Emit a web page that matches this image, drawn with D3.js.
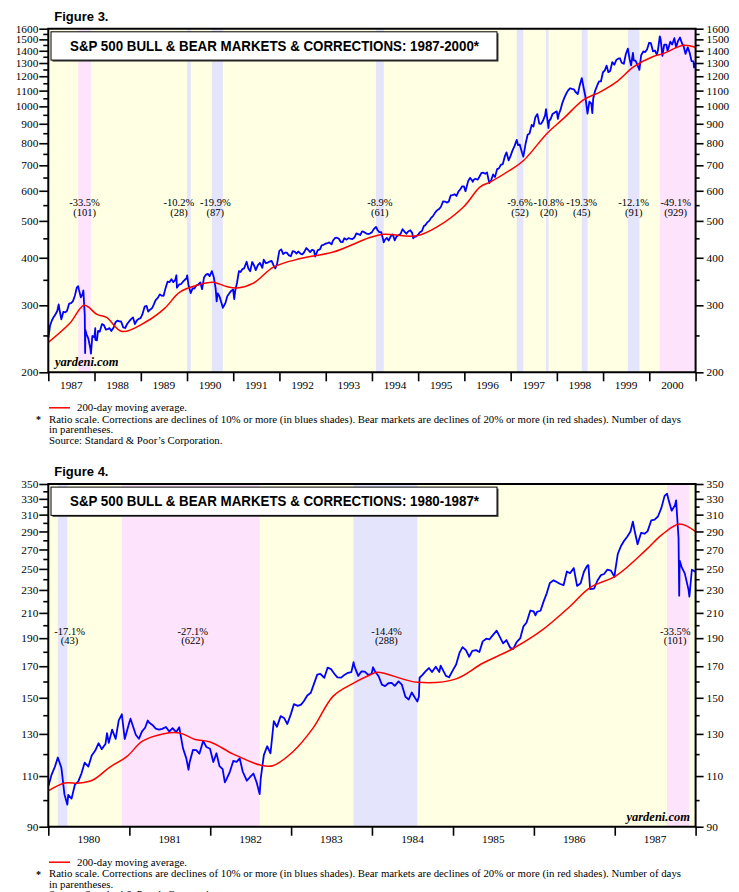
<!DOCTYPE html>
<html><head><meta charset="utf-8">
<script src="https://cdn.jsdelivr.net/npm/d3@7"></script>
<style>
body{margin:0;background:#fff;}
svg{display:block;}
</style></head><body>
<svg id="c" width="739" height="892"></svg>
<script>
// ---------- DATA ----------
// S&P 500 index (approx. semi-monthly readings incl. key highs/lows)
const sp1980to1986 = [
["1980-01-02",105.8],["1980-01-15",110.4],["1980-01-31",114.2],["1980-02-13",118.4],["1980-02-29",113.7],["1980-03-14",102.3],["1980-03-27",98.2],["1980-03-31",102.1],["1980-04-15",100.6],["1980-04-30",106.3],["1980-05-15",107.6],["1980-05-30",111.2],["1980-06-13",116.0],["1980-06-30",114.2],["1980-07-15",119.3],["1980-07-31",121.7],["1980-08-15",125.3],["1980-08-29",122.4],["1980-09-15",124.9],["1980-09-22",130.4],["1980-09-30",125.5],["1980-10-15",132.2],["1980-10-31",127.5],["1980-11-14",137.2],["1980-11-28",140.5],["1980-12-11",127.4],["1980-12-31",135.8],
["1981-01-06",138.1],["1981-01-15",134.8],["1981-01-30",129.6],["1981-02-13",127.5],["1981-02-27",131.3],["1981-03-13",133.2],["1981-03-25",137.1],["1981-03-31",136.0],["1981-04-15",134.7],["1981-04-30",132.8],["1981-05-15",132.2],["1981-05-29",132.6],["1981-06-15",133.6],["1981-06-30",131.2],["1981-07-15",133.0],["1981-07-31",130.9],["1981-08-14",133.5],["1981-08-31",122.8],["1981-09-15",118.0],["1981-09-25",112.8],["1981-09-30",116.2],["1981-10-15",122.0],["1981-10-30",121.9],["1981-11-13",120.2],["1981-11-30",126.4],["1981-12-15",123.4],["1981-12-31",122.6],
["1982-01-15",116.3],["1982-01-29",120.4],["1982-02-12",114.4],["1982-02-26",113.1],["1982-03-08",107.3],["1982-03-15",108.6],["1982-03-31",112.0],["1982-04-15",116.8],["1982-04-30",116.4],["1982-05-14",118.0],["1982-05-28",111.9],["1982-06-15",108.0],["1982-06-30",109.6],["1982-07-15",111.1],["1982-07-30",107.1],["1982-08-12",102.4],["1982-08-17",109.0],["1982-08-31",119.5],["1982-09-15",123.8],["1982-09-30",120.4],["1982-10-15",136.7],["1982-10-29",133.7],["1982-11-15",139.5],["1982-11-30",138.5],["1982-12-15",135.2],["1982-12-31",140.6],
["1983-01-14",146.3],["1983-01-31",145.3],["1983-02-15",146.0],["1983-02-28",148.1],["1983-03-15",151.4],["1983-03-31",153.0],["1983-04-15",158.8],["1983-04-29",164.4],["1983-05-13",164.9],["1983-05-31",162.4],["1983-06-15",169.1],["1983-06-30",168.1],["1983-07-15",165.0],["1983-07-29",162.6],["1983-08-15",162.5],["1983-08-31",164.4],["1983-09-15",165.6],["1983-09-30",166.1],["1983-10-10",172.7],["1983-10-14",169.9],["1983-10-31",163.6],["1983-11-15",166.6],["1983-11-30",166.4],["1983-12-15",164.3],["1983-12-30",164.9],
["1984-01-06",169.3],["1984-01-13",167.0],["1984-01-31",163.4],["1984-02-15",158.0],["1984-02-29",157.1],["1984-03-15",158.9],["1984-03-30",159.2],["1984-04-13",157.3],["1984-04-30",160.1],["1984-05-15",158.0],["1984-05-31",150.6],["1984-06-15",149.0],["1984-06-29",153.2],["1984-07-13",150.0],["1984-07-24",147.8],["1984-07-31",150.7],["1984-08-03",162.4],["1984-08-15",164.1],["1984-08-31",166.7],["1984-09-14",168.8],["1984-09-28",166.1],["1984-10-15",169.7],["1984-10-31",166.1],["1984-11-06",170.4],["1984-11-30",163.6],["1984-12-14",162.7],["1984-12-31",167.2],
["1985-01-15",171.2],["1985-01-31",179.6],["1985-02-13",183.4],["1985-02-28",181.2],["1985-03-15",176.5],["1985-03-29",180.7],["1985-04-15",181.2],["1985-04-30",179.8],["1985-05-15",187.6],["1985-05-31",189.6],["1985-06-14",189.0],["1985-06-28",191.9],["1985-07-17",195.7],["1985-07-31",190.9],["1985-08-15",186.1],["1985-08-30",188.6],["1985-09-16",182.9],["1985-09-30",182.1],["1985-10-15",187.0],["1985-10-31",189.8],["1985-11-15",199.1],["1985-11-29",202.2],["1985-12-16",212.0],["1985-12-31",211.3],
["1986-01-08",208.0],["1986-01-15",210.9],["1986-01-31",211.8],["1986-02-14",219.8],["1986-02-28",226.9],["1986-03-14",236.5],["1986-03-31",238.9],["1986-04-14",237.3],["1986-04-30",235.5],["1986-05-15",234.4],["1986-05-30",247.4],["1986-06-13",245.7],["1986-06-30",250.8],["1986-07-15",233.7],["1986-07-31",236.1],["1986-08-15",247.2],["1986-08-29",252.9],["1986-09-04",253.8],["1986-09-12",230.7],["1986-09-30",231.3],["1986-10-15",238.8],["1986-10-31",244.0],["1986-11-14",245.0],["1986-11-28",249.2],["1986-12-15",248.2],["1986-12-31",242.2]
];
const sp1987 = [
["1987-01-02",246.5],["1987-01-15",265.5],["1987-01-30",274.1],["1987-02-13",279.7],["1987-02-27",284.2],["1987-03-13",289.9],["1987-03-24",301.6],["1987-03-31",291.7],["1987-04-14",275.7],["1987-04-30",288.4],["1987-05-15",287.4],["1987-05-29",290.1],["1987-06-15",303.1],["1987-06-30",304.0],["1987-07-15",307.7],["1987-07-31",318.7],["1987-08-14",333.9],["1987-08-25",336.8],["1987-08-31",329.8],["1987-09-15",314.9],["1987-09-30",321.8],["1987-10-05",328.1],["1987-10-16",282.7],["1987-10-19",224.8],["1987-10-21",258.4],["1987-10-30",251.8],["1987-11-13",245.6],["1987-11-30",230.3],["1987-12-04",223.9],["1987-12-15",249.2],["1987-12-31",247.1]
];
const sp1988to2000 = [
["1988-01-07",261.1],["1988-01-08",243.4],["1988-01-20",242.6],["1988-01-29",257.1],["1988-02-12",255.9],["1988-02-29",267.8],["1988-03-15",266.1],["1988-03-31",258.9],["1988-04-14",259.8],["1988-04-29",261.3],["1988-05-13",256.8],["1988-05-31",262.2],["1988-06-15",270.7],["1988-06-30",273.5],["1988-07-15",272.1],["1988-07-29",272.0],["1988-08-15",262.5],["1988-08-31",261.5],["1988-09-15",268.0],["1988-09-30",272.0],["1988-10-14",275.5],["1988-10-31",278.9],["1988-11-15",267.7],["1988-11-30",273.7],["1988-12-15",276.3],["1988-12-30",277.7],
["1989-01-13",283.9],["1989-01-31",297.5],["1989-02-15",299.0],["1989-02-28",288.9],["1989-03-15",292.1],["1989-03-31",294.9],["1989-04-14",301.7],["1989-04-28",309.6],["1989-05-15",313.8],["1989-05-31",320.5],["1989-06-15",318.0],["1989-06-30",317.9],["1989-07-14",331.8],["1989-07-31",346.1],["1989-08-15",345.0],["1989-08-31",351.5],["1989-09-15",345.1],["1989-09-29",349.2],["1989-10-09",359.8],["1989-10-13",333.7],["1989-10-31",340.4],["1989-11-15",341.2],["1989-11-30",346.0],["1989-12-15",350.1],["1989-12-29",353.4],
["1990-01-02",359.7],["1990-01-12",339.9],["1990-01-30",323.0],["1990-02-15",332.7],["1990-02-28",331.9],["1990-03-15",338.1],["1990-03-30",339.9],["1990-04-16",344.7],["1990-04-30",330.8],["1990-05-15",354.8],["1990-05-31",361.2],["1990-06-15",362.9],["1990-06-29",358.0],["1990-07-16",369.0],["1990-07-31",356.2],["1990-08-15",332.4],["1990-08-23",307.1],["1990-08-31",322.6],["1990-09-14",316.8],["1990-09-28",306.1],["1990-10-11",295.5],["1990-10-31",304.0],["1990-11-15",317.0],["1990-11-30",322.2],["1990-12-14",326.8],["1990-12-31",330.2],
["1991-01-09",311.5],["1991-01-17",327.9],["1991-01-31",343.9],["1991-02-15",369.1],["1991-02-28",367.1],["1991-03-15",373.6],["1991-03-28",375.2],["1991-04-17",390.5],["1991-04-30",375.3],["1991-05-15",368.6],["1991-05-31",389.8],["1991-06-14",382.3],["1991-06-28",371.2],["1991-07-15",382.4],["1991-07-31",387.8],["1991-08-19",376.5],["1991-08-30",395.4],["1991-09-16",387.0],["1991-09-30",388.3],["1991-10-15",391.0],["1991-10-31",392.5],["1991-11-15",382.6],["1991-11-29",375.2],["1991-12-13",384.5],["1991-12-31",417.1],
["1992-01-15",420.8],["1992-01-31",408.8],["1992-02-14",412.5],["1992-02-28",412.7],["1992-03-16",405.9],["1992-03-31",403.7],["1992-04-15",416.3],["1992-04-30",415.0],["1992-05-15",410.1],["1992-05-29",415.4],["1992-06-15",410.3],["1992-06-30",408.1],["1992-07-15",414.0],["1992-07-31",424.2],["1992-08-14",419.9],["1992-08-31",414.0],["1992-09-15",419.8],["1992-09-30",417.8],["1992-10-09",402.7],["1992-10-30",418.7],["1992-11-16",420.7],["1992-11-30",431.4],["1992-12-15",432.6],["1992-12-31",435.7],
["1993-01-15",437.2],["1993-01-29",438.8],["1993-02-16",433.9],["1993-02-26",443.4],["1993-03-15",451.0],["1993-03-31",451.7],["1993-04-15",448.7],["1993-04-30",440.2],["1993-05-14",439.6],["1993-05-28",450.2],["1993-06-15",446.3],["1993-06-30",450.5],["1993-07-15",449.2],["1993-07-30",448.1],["1993-08-16",452.4],["1993-08-31",463.6],["1993-09-15",461.6],["1993-09-30",458.9],["1993-10-15",469.5],["1993-10-29",467.8],["1993-11-15",463.8],["1993-11-30",461.8],["1993-12-15",463.1],["1993-12-31",466.5],
["1994-01-14",474.9],["1994-01-31",481.6],["1994-02-02",482.0],["1994-02-15",472.5],["1994-02-28",467.1],["1994-03-15",467.4],["1994-03-31",445.8],["1994-04-04",438.9],["1994-04-15",446.2],["1994-04-29",450.9],["1994-05-13",444.1],["1994-05-31",456.5],["1994-06-15",460.6],["1994-06-30",444.3],["1994-07-15",455.2],["1994-07-29",458.3],["1994-08-15",461.9],["1994-08-31",475.5],["1994-09-15",468.8],["1994-09-30",462.7],["1994-10-14",469.1],["1994-10-31",472.4],["1994-11-15",465.0],["1994-11-23",449.9],["1994-11-30",453.7],["1994-12-15",454.9],["1994-12-30",459.3],
["1995-01-13",466.0],["1995-01-31",470.4],["1995-02-15",484.5],["1995-02-28",487.4],["1995-03-15",495.6],["1995-03-31",500.7],["1995-04-13",509.2],["1995-04-28",514.7],["1995-05-15",525.6],["1995-05-31",533.4],["1995-06-15",537.1],["1995-06-30",544.8],["1995-07-17",562.7],["1995-07-31",562.1],["1995-08-15",558.6],["1995-08-31",561.9],["1995-09-15",583.4],["1995-09-29",584.4],["1995-10-16",587.5],["1995-10-31",581.5],["1995-11-15",597.0],["1995-11-30",605.4],["1995-12-15",616.3],["1995-12-29",615.9],
["1996-01-10",598.5],["1996-01-31",636.0],["1996-02-15",648.9],["1996-02-29",640.4],["1996-03-08",633.5],["1996-03-15",641.4],["1996-03-29",645.5],["1996-04-15",641.6],["1996-04-30",654.2],["1996-05-15",668.9],["1996-05-31",669.1],["1996-06-14",665.2],["1996-06-28",670.6],["1996-07-16",628.4],["1996-07-31",640.0],["1996-08-15",662.3],["1996-08-30",652.0],["1996-09-16",684.0],["1996-09-30",687.3],["1996-10-15",701.6],["1996-10-31",705.3],["1996-11-15",737.6],["1996-11-29",757.0],["1996-12-16",721.0],["1996-12-31",740.7],
["1997-01-15",765.0],["1997-01-31",786.2],["1997-02-18",816.3],["1997-02-28",790.8],["1997-03-14",793.2],["1997-03-31",757.1],["1997-04-11",737.7],["1997-04-30",801.3],["1997-05-15",841.9],["1997-05-30",848.3],["1997-06-16",893.9],["1997-06-30",885.1],["1997-07-15",936.6],["1997-07-31",954.3],["1997-08-15",900.8],["1997-08-29",899.5],["1997-09-15",919.8],["1997-09-30",947.3],["1997-10-07",983.1],["1997-10-27",877.0],["1997-10-31",914.6],["1997-11-14",928.4],["1997-11-28",955.4],["1997-12-15",963.4],["1997-12-31",970.4],
["1998-01-09",927.7],["1998-01-15",950.7],["1998-01-30",980.3],["1998-02-13",1020.1],["1998-02-27",1049.3],["1998-03-16",1080.5],["1998-03-31",1101.8],["1998-04-15",1115.8],["1998-04-30",1111.8],["1998-05-15",1108.7],["1998-05-29",1090.8],["1998-06-15",1077.0],["1998-06-30",1133.8],["1998-07-17",1186.8],["1998-07-31",1120.7],["1998-08-14",1062.8],["1998-08-31",957.3],["1998-09-15",1029.7],["1998-09-30",1017.0],["1998-10-08",959.4],["1998-10-15",1047.5],["1998-10-30",1098.7],["1998-11-16",1135.9],["1998-11-30",1163.6],["1998-12-15",1162.8],["1998-12-31",1229.2],
["1999-01-15",1243.3],["1999-01-29",1279.6],["1999-02-12",1230.1],["1999-02-26",1238.3],["1999-03-15",1307.3],["1999-03-31",1286.4],["1999-04-15",1322.9],["1999-04-30",1335.2],["1999-05-14",1337.8],["1999-05-28",1301.8],["1999-06-14",1294.0],["1999-06-30",1372.7],["1999-07-16",1418.8],["1999-07-30",1328.7],["1999-08-10",1281.4],["1999-08-25",1381.8],["1999-08-31",1320.4],["1999-09-15",1318.0],["1999-09-30",1282.7],["1999-10-15",1247.4],["1999-10-29",1362.9],["1999-11-15",1394.4],["1999-11-30",1388.9],["1999-12-15",1413.3],["1999-12-31",1469.3],
["2000-01-14",1465.2],["2000-01-31",1394.5],["2000-02-15",1402.1],["2000-02-29",1366.4],["2000-03-09",1401.7],["2000-03-24",1527.5],["2000-03-31",1498.6],["2000-04-14",1356.6],["2000-04-28",1452.4],["2000-05-15",1452.4],["2000-05-24",1399.1],["2000-05-31",1420.6],["2000-06-15",1478.7],["2000-06-30",1454.6],["2000-07-17",1510.5],["2000-07-31",1430.8],["2000-08-15",1484.4],["2000-08-31",1517.7],["2000-09-15",1465.8],["2000-09-29",1436.5],["2000-10-13",1374.2],["2000-10-31",1429.4],["2000-11-15",1383.0],["2000-11-30",1315.2],["2000-12-15",1312.2],["2000-12-20",1264.7],["2000-12-29",1300.0]
];
// 200-day moving average
const ma1987to2000 = [
["1987-01-01",239.6],["1987-06-20",269],["1987-10-12",300],["1988-01-20",284],["1988-04-05",279],["1988-08-05",256],["1989-02-15",272],["1989-07-10",295],["1989-11-05",325],["1990-04-10",340],["1990-07-25",345],["1990-11-10",336],["1991-01-30",333],["1991-06-10",343],["1991-11-15",378],["1992-06-15",398],["1993-03-01",414],["1993-12-15",452],["1994-04-01",461],["1994-12-20",457],["1995-05-30",482],["1995-12-25",544],["1996-05-05",614],["1996-07-25",633],["1996-12-28",680],["1997-04-15",722],["1997-10-15",849],["1998-02-25",931],["1998-07-30",1040],["1998-12-10",1092],["1999-04-20",1162],["1999-08-30",1270],["2000-02-01",1352],["2000-04-25",1378],["2000-09-25",1447],["2000-12-31",1430]
];
const ma1980to1987 = [
["1980-01-01",103.7],["1980-03-15",107],["1980-05-20",107],["1980-07-20",108.3],["1980-10-05",114],["1980-12-20",118.8],["1981-03-01",126.3],["1981-06-01",130],["1981-08-15",130.5],["1981-10-25",127.2],["1982-01-01",125.9],["1982-04-15",120],["1982-08-15",114.9],["1982-10-10",114.6],["1983-01-08",121],["1983-04-10",133],["1983-07-10",151],["1983-10-10",159],["1983-12-20",164],["1984-01-25",166],["1984-07-25",159.5],["1985-01-15",161.7],["1985-05-15",172],["1985-09-25",182],["1986-02-10",196.5],["1986-06-10",215],["1986-09-10",232],["1987-01-08",243.4],["1987-05-20",269],["1987-08-01",286],["1987-10-20",298.6],["1987-12-31",290]
];
// Corrections (corr) and bear markets (bear)
const bands1987to2000 = [
{start:"1987-08-25",end:"1987-12-04",type:"bear",pct:"-33.5%",days:"(101)"},
{start:"1990-01-02",end:"1990-01-30",type:"corr",pct:"-10.2%",days:"(28)"},
{start:"1990-07-16",end:"1990-10-11",type:"corr",pct:"-19.9%",days:"(87)"},
{start:"1994-02-02",end:"1994-04-04",type:"corr",pct:"-8.9%",days:"(61)"},
{start:"1997-02-18",end:"1997-04-11",type:"corr",pct:"-9.6%",days:"(52)"},
{start:"1997-10-07",end:"1997-10-27",type:"corr",pct:"-10.8%",days:"(20)"},
{start:"1998-07-17",end:"1998-08-31",type:"corr",pct:"-19.3%",days:"(45)"},
{start:"1999-07-16",end:"1999-10-15",type:"corr",pct:"-12.1%",days:"(91)"},
{start:"2000-03-24",end:"2002-10-09",type:"bear",pct:"-49.1%",days:"(929)"}
];
const bands1980to1987 = [
{start:"1980-02-13",end:"1980-03-27",type:"corr",pct:"-17.1%",days:"(43)"},
{start:"1980-11-28",end:"1982-08-12",type:"bear",pct:"-27.1%",days:"(622)"},
{start:"1983-10-10",end:"1984-07-24",type:"corr",pct:"-14.4%",days:"(288)"},
{start:"1987-08-25",end:"1987-12-04",type:"bear",pct:"-33.5%",days:"(101)"}
];
const ticks1987 = [200,300,400,500,600,700,800,900,1000,1100,1200,1300,1400,1500,1600];
const minor1987 = [250,350,450,550,650,750,850,950,1050,1150,1250,1350,1450,1550];
const ticks1980 = [90,110,130,150,170,190,210,230,250,270,290,310,330,350];
const minor1980 = [100,120,140,160,180,200,220,240,260,280,300,320,340];
const years1987 = d3.range(1987,2001);
const years1980 = d3.range(1980,1988);
const footText = ["Ratio scale. Corrections are declines of 10% or more (in blues shades). Bear markets are declines of 20% or more (in red shades). Number of days","in parentheses.","Source: Standard & Poor\u2019s Corporation."];

// ---------- DRAW ----------
const parse = d3.timeParse("%Y-%m-%d");
const svg = d3.select("#c");
const SERIF = "'Liberation Serif','Times New Roman',serif";
const SANS = "'Liberation Sans',Arial,Helvetica,sans-serif";

function chart(o){
  const g = svg.append("g");
  const x = d3.scaleTime().domain([new Date(o.years[0],0,1), new Date(o.years[o.years.length-1]+1,0,1)]).range([48.3,695.6]);
  const y = d3.scaleLog().domain(o.yDomain).range([o.yBottom,o.yTop]);
  const [x0,x1] = x.range();
  // figure label
  svg.append("text").attr("x",54.3).attr("y",o.figY).attr("font-family",SANS).attr("font-weight","bold").attr("font-size",13).text(o.fig);
  // background
  g.append("rect").attr("x",x0).attr("y",o.yTop).attr("width",x1-x0).attr("height",o.yBottom-o.yTop).attr("fill","#FFFFE3");
  g.selectAll("rect.band").data(o.bands).join("rect").attr("class","band")
    .attr("x",d=>x(parse(d.start)))
    .attr("width",d=>Math.min(x(parse(d.end)),x1)-x(parse(d.start)))
    .attr("y",o.yTop).attr("height",o.yBottom-o.yTop)
    .attr("fill",d=>d.type==="bear"?"#FDE4FC":"#E4E4FC");
  // band labels
  const lab = g.selectAll("g.lab").data(o.bands).join("g").attr("class","lab")
    .attr("transform",d=>{const a=x(parse(d.start)), b=Math.min(x(parse(d.end)),x1); return `translate(${(a+b)/2+(o.nudge[d.pct]||0)},0)`;})
    .attr("font-family",SERIF).attr("font-size",10.5).attr("text-anchor","middle");
  lab.append("text").attr("y",o.labY).text(d=>d.pct);
  lab.append("text").attr("y",o.labY+9.6).text(d=>d.days);
  // lines
  const line = d3.line().x(d=>x(parse(d[0]))).y(d=>y(d[1]));
  g.append("path").datum(o.price).attr("d",line).attr("fill","none").attr("stroke","#0000FF").attr("stroke-width",1.8).attr("stroke-linejoin","round");
  const maLine = d3.line().curve(d3.curveCatmullRom.alpha(0.5)).x(d=>x(parse(d[0]))).y(d=>y(d[1]));
  g.append("path").datum(o.ma).attr("d",maLine).attr("fill","none").attr("stroke","#FF0000").attr("stroke-width",1.5);
  // title box
  const bt = o.yTop+3.1;
  g.append("rect").attr("x",52.5).attr("y",bt+1.5).attr("width",446).attr("height",28.3).attr("fill","#444");
  g.append("rect").attr("x",51).attr("y",bt).attr("width",446).attr("height",28.3).attr("fill","#fff").attr("stroke","#000").attr("stroke-width",1);
  g.append("text").attr("x",274.5).attr("y",bt+19.3).attr("text-anchor","middle").attr("font-family",SANS).attr("font-weight","bold").attr("font-size",14.4)
    .attr("textLength",409).attr("lengthAdjust","spacingAndGlyphs").text(o.title);
  // yardeni
  g.append("text").attr("x",o.yard[0]).attr("y",o.yard[1]).attr("text-anchor",o.yard[2]).attr("font-family",SERIF).attr("font-weight","bold").attr("font-style","italic").attr("font-size",12.5).text("yardeni.com");
  // axes
  const styleAx = sel => { sel.select(".domain").remove(); sel.selectAll("text").attr("font-family",SERIF).attr("font-size",11.3).attr("fill","#000"); sel.selectAll("line").attr("stroke","#000").attr("stroke-width",1.6); };
  g.append("g").attr("transform",`translate(${x0},0)`).call(d3.axisLeft(y).tickValues(o.major).tickFormat(d3.format("d")).tickSize(9).tickPadding(1)).call(styleAx);
  g.append("g").attr("transform",`translate(${x0},0)`).call(d3.axisLeft(y).tickValues(o.minor).tickFormat("").tickSize(5)).call(styleAx);
  g.append("g").attr("transform",`translate(${x1},0)`).call(d3.axisRight(y).tickValues(o.major).tickFormat(d3.format("d")).tickSize(8).tickPadding(3)).call(styleAx);
  g.append("g").attr("transform",`translate(${x1},0)`).call(d3.axisRight(y).tickValues(o.minor).tickFormat("").tickSize(4)).call(styleAx);
  const yearTicks = o.years.map(yr=>new Date(yr,0,1)).concat([new Date(o.years[o.years.length-1]+1,0,1)]);
  g.append("g").attr("transform",`translate(0,${o.yBottom})`).call(d3.axisBottom(x).tickValues(yearTicks).tickFormat("").tickSize(9)).call(styleAx);
  g.selectAll("text.yr").data(o.years).join("text").attr("class","yr")
    .attr("x",d=>x(new Date(d,6,2))).attr("y",o.yBottom+16.5).attr("text-anchor","middle")
    .attr("font-family",SERIF).attr("font-size",11.3).text(d=>d);
  // frame
  g.append("path").attr("d",`M${x0},${o.yBottom}V${o.yTop}H${x1}V${o.yBottom}Z`).attr("fill","none").attr("stroke","#000").attr("stroke-width",2);
  // footnotes
  const f = o.yBottom;
  g.append("line").attr("x1",49).attr("x2",70).attr("y1",f+35.5).attr("y2",f+35.5).attr("stroke","#FF0000").attr("stroke-width",1.5);
  const ft = g.append("g").attr("font-family",SERIF).attr("font-size",10.8);
  ft.append("text").attr("x",77).attr("y",f+39).text("200-day moving average.");
  ft.append("text").attr("x",36).attr("y",f+51).attr("font-size",10).attr("font-weight","bold").text("*");
  footText.forEach((t,i)=>ft.append("text").attr("x",49).attr("y",f+50.3+i*10.6).text(t));
}

chart({fig:"Figure 3.",figY:20.7,title:"S&P 500 BULL & BEAR MARKETS & CORRECTIONS: 1987-2000*",
  years:years1987,yDomain:[200,1600],yTop:28.7,yBottom:372.3,major:ticks1987,minor:minor1987,
  bands:bands1987to2000,price:sp1987.concat(sp1988to2000),ma:ma1987to2000,labY:206,
  nudge:{"-10.2%":-10,"-19.9%":-2,"-10.8%":1.5,"-19.3%":-3,"-49.1%":-2},yard:[55,366,"start"]});
chart({fig:"Figure 4.",figY:475.7,title:"S&P 500 BULL & BEAR MARKETS & CORRECTIONS: 1980-1987*",
  years:years1980,yDomain:[90,350],yTop:484,yBottom:826.7,major:ticks1980,minor:minor1980,
  bands:bands1980to1987,price:sp1980to1986.concat(sp1987),ma:ma1980to1987,labY:634.5,
  nudge:{"-17.1%":7,"-27.1%":2,"-14.4%":1,"-33.5%":-3},yard:[690,821,"end"]});
</script>
</body></html>
